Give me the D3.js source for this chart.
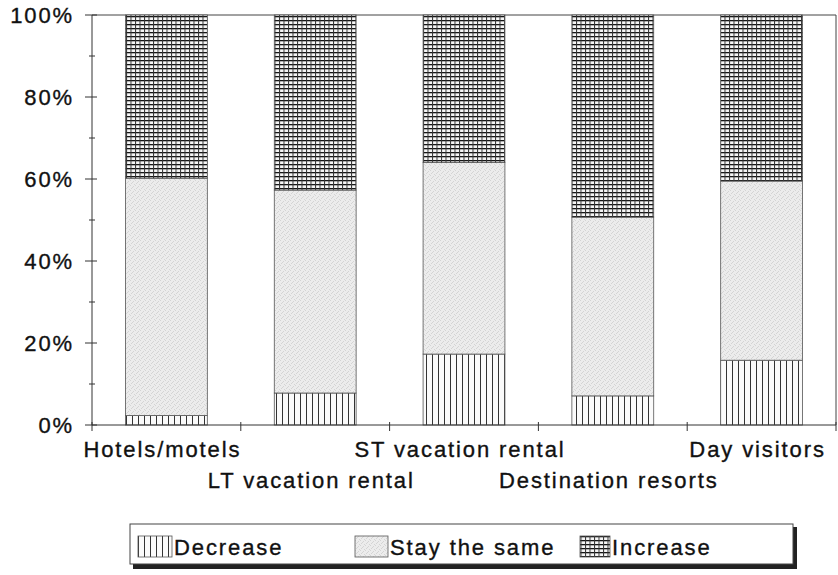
<!DOCTYPE html>
<html>
<head>
<meta charset="utf-8">
<script src="https://cdn.jsdelivr.net/npm/d3@7"></script>
<style>
  body { margin: 0; background: #fff; }
  svg text { font-family: "Liberation Sans", Arial, sans-serif; fill: #111; stroke: #111; stroke-width: 0.35px; letter-spacing: 1.9px; }
</style>
</head>
<body>
<div id="chart"></div>
<script>
// Data (percent of respondents)
const categories = ["Hotels/motels", "LT vacation rental", "ST vacation rental", "Destination resorts", "Day visitors"];
const seriesNames = ["Decrease", "Stay the same", "Increase"];
const decrease = [2.3, 7.8, 17.3, 7.1, 15.8];
const stayTheSame = [57.9, 49.5, 46.7, 43.6, 43.7];
const increase = [39.8, 42.7, 36.0, 49.3, 40.5];
const yTicks = [0, 20, 40, 60, 80, 100];

const width = 838, height = 575;
const plotLeft = 92, plotRight = 836, plotTop = 15, plotBottom = 425;
const fontSize = 22;

const svg = d3.select("#chart").append("svg")
    .attr("width", width)
    .attr("height", height);

// patterns
const defs = svg.append("defs");

const pDec = defs.append("pattern").attr("id", "pDec")
    .attr("patternUnits", "userSpaceOnUse").attr("width", 6).attr("height", 6);
pDec.append("rect").attr("width", 6).attr("height", 6).attr("fill", "#fafafa");
pDec.append("line").attr("x1", 0.5).attr("x2", 0.5).attr("y1", 0).attr("y2", 6)
    .attr("stroke", "#333").attr("stroke-width", 1);

const pSame = defs.append("pattern").attr("id", "pSame")
    .attr("patternUnits", "userSpaceOnUse").attr("width", 5).attr("height", 5);
pSame.append("rect").attr("width", 5).attr("height", 5).attr("fill", "#ececec");
[[0, 0], [3, 1], [1, 3], [4, 4], [2, 2]].forEach(([px, py]) => {
    pSame.append("rect").attr("x", px).attr("y", py).attr("width", 1).attr("height", 1).attr("fill", "#d4d4d4");
});

const pInc = defs.append("pattern").attr("id", "pInc")
    .attr("patternUnits", "userSpaceOnUse").attr("width", 4.5).attr("height", 4);
pInc.append("rect").attr("width", 4.5).attr("height", 4).attr("fill", "#f6f6f6");
pInc.append("line").attr("x1", 0).attr("x2", 4.5).attr("y1", 0.6).attr("y2", 0.6)
    .attr("stroke", "#151515").attr("stroke-width", 1.4);
pInc.append("line").attr("x1", 0.5).attr("x2", 0.5).attr("y1", 0).attr("y2", 4)
    .attr("stroke", "#333").attr("stroke-width", 1);

const fills = ["url(#pDec)", "url(#pSame)", "url(#pInc)"];

// scales
const x = d3.scaleBand()
    .domain(categories)
    .range([plotLeft, plotRight])
    .paddingInner(0.45)
    .paddingOuter(0.225);

const y = d3.scaleLinear().domain([0, 100]).range([plotBottom, plotTop]);

// stacked data
const table = categories.map((c, i) => ({
    category: c,
    "Decrease": decrease[i],
    "Stay the same": stayTheSame[i],
    "Increase": increase[i]
}));
const stacked = d3.stack().keys(seriesNames)(table);

// frame: top and right
svg.append("path")
    .attr("d", `M${plotLeft},${plotTop}H${plotRight}V${plotBottom}`)
    .attr("fill", "none").attr("stroke", "#444").attr("stroke-width", 1);

// bars
svg.selectAll(".series")
    .data(stacked)
    .join("g")
    .attr("class", "series")
    .attr("fill", (d, i) => fills[i])
    .selectAll("rect")
    .data(d => d)
    .join("rect")
    .attr("x", d => x(d.data.category))
    .attr("width", x.bandwidth())
    .attr("y", d => y(d[1]))
    .attr("height", d => y(d[0]) - y(d[1]))
    .attr("stroke", "#555")
    .attr("stroke-width", 0.8);

// y axis
const yAxis = svg.append("g");
yAxis.append("line")
    .attr("x1", plotLeft).attr("x2", plotLeft).attr("y1", plotTop).attr("y2", plotBottom)
    .attr("stroke", "#333");
d3.range(0, 101, 10).forEach(v => {
    const major = v % 20 === 0;
    yAxis.append("line")
        .attr("x1", major ? plotLeft - 7 : plotLeft - 3)
        .attr("x2", major ? plotLeft + 5 : plotLeft + 3)
        .attr("y1", y(v)).attr("y2", y(v))
        .attr("stroke", "#333");
});
yAxis.selectAll("text")
    .data(yTicks)
    .join("text")
    .attr("x", 74)
    .attr("y", d => y(d))
    .attr("dy", "0.36em")
    .attr("text-anchor", "end")
    .attr("font-size", fontSize)
    .text(d => d + "%");

// x axis
const xAxis = svg.append("g");
xAxis.append("line")
    .attr("x1", plotLeft).attr("x2", plotRight).attr("y1", plotBottom).attr("y2", plotBottom)
    .attr("stroke", "#333");
const step = x.step();
d3.range(categories.length + 1).forEach(i => {
    const xx = plotLeft + i * step;
    xAxis.append("line")
        .attr("x1", xx).attr("x2", xx).attr("y1", plotBottom - 3).attr("y2", plotBottom + 6)
        .attr("stroke", "#333");
});
xAxis.selectAll("text")
    .data(categories)
    .join("text")
    .attr("x", d => x(d) + x.bandwidth() / 2 - 4)
    .attr("y", (d, i) => i % 2 === 0 ? 457 : 488)
    .attr("text-anchor", "middle")
    .attr("font-size", fontSize)
    .text(d => d);

// legend
const legend = svg.append("g");
legend.append("rect")
    .attr("x", 133).attr("y", 527).attr("width", 664).attr("height", 42)
    .attr("fill", "#222");
legend.append("rect")
    .attr("x", 130).attr("y", 524).attr("width", 663).attr("height", 40)
    .attr("fill", "#fff").attr("stroke", "#444").attr("stroke-width", 1);

const legendX = [138, 355, 580];
const legendW = [34, 33, 30];
seriesNames.forEach((name, i) => {
    legend.append("rect")
        .attr("x", legendX[i]).attr("y", 536)
        .attr("width", legendW[i]).attr("height", 21)
        .attr("fill", fills[i])
        .attr("stroke", "#555").attr("stroke-width", 0.8);
    legend.append("text")
        .attr("x", legendX[i] + legendW[i] + 2)
        .attr("y", 555)
        .attr("font-size", fontSize)
        .text(name);
});
</script>
</body>
</html>
